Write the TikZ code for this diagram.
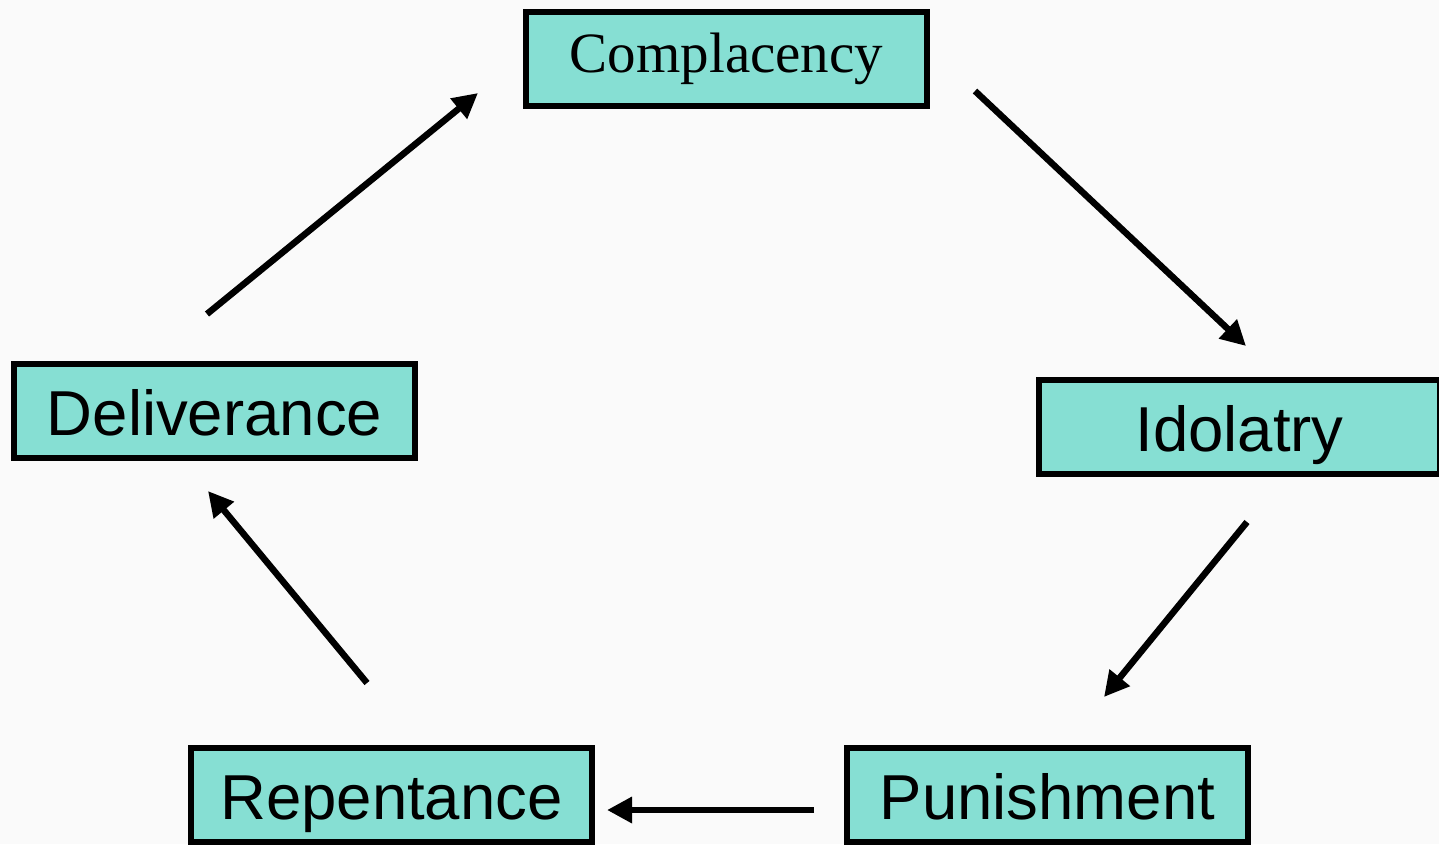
\documentclass[tikz,border=0pt]{standalone}
\usepackage{fontspec}
\setmainfont{Liberation Sans}
\newfontfamily\serifbox{Liberation Serif}
\usetikzlibrary{arrows.meta}
\definecolor{boxfill}{HTML}{86DFD3}
\definecolor{bgc}{HTML}{FAFAFA}
\tikzset{
  stagebox/.style={draw=black, line width=6pt, fill=boxfill, minimum width=401pt, minimum height=94pt, inner sep=0pt, text height=55pt, text depth=6pt, font=\fontsize{63.5}{63.5}\selectfont},
  serifstage/.style={stagebox, text height=40pt, text depth=13pt, font=\serifbox\fontsize{57}{57}\selectfont},
  cyclearrow/.style={line width=6.5pt, -{Triangle[length=25pt,width=25pt]}}
}
\begin{document}
\begin{tikzpicture}[x=1pt,y=-1pt]
\fill[bgc] (0,0) rectangle (1439,844);
\useasboundingbox (0,0) rectangle (1439,844);
\node[serifstage] (comp) at (726.5,58.5) {Complacency};
\node[stagebox] (idol) at (1239.5,427) {Idolatry};
\node[stagebox] (deli) at (214.5,410.5) {Deliverance};
\node[stagebox] (rep) at (391.5,794.5) {Repentance};
\node[stagebox] (pun) at (1047.5,794.5) {Punishment};
\coordinate (a1s) at (207,314);
\coordinate (a1e) at (478,93);
\coordinate (a2s) at (975,91);
\coordinate (a2e) at (1246,346);
\coordinate (a3s) at (1247,522);
\coordinate (a3e) at (1104,697);
\coordinate (a4s) at (814,810);
\coordinate (a4e) at (607,810);
\coordinate (a5s) at (367,683);
\coordinate (a5e) at (208,491);
\draw[cyclearrow] (a1s) -- (a1e);
\draw[cyclearrow] (a2s) -- (a2e);
\draw[cyclearrow] (a3s) -- (a3e);
\draw[cyclearrow] (a4s) -- (a4e);
\draw[cyclearrow] (a5s) -- (a5e);
\end{tikzpicture}
\end{document}
